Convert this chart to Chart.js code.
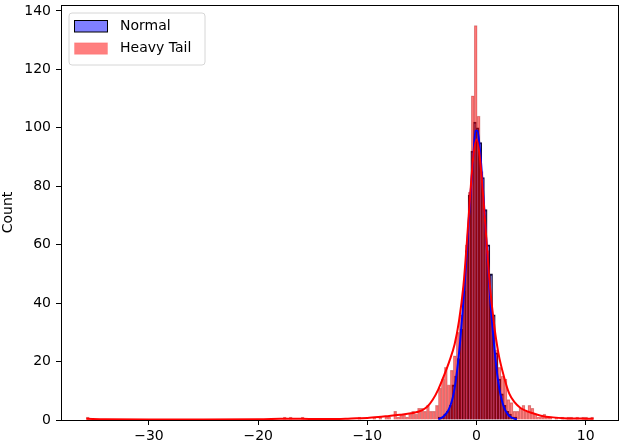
<!DOCTYPE html>
<html>
<head>
<meta charset="utf-8">
<script src="https://cdn.jsdelivr.net/npm/chart.js@4.4.0/dist/chart.umd.min.js"></script>
<style>
  html, body { margin: 0; padding: 0; background: #fff; }
  #wrap { position: relative; width: 623px; height: 448px; }
</style>
</head>
<body>
<div id="wrap"><canvas id="histCanvas"></canvas></div>
<script>
// axis limits and ticks
const xLimits = [-38.06, 13.05];
const yLimits = [0, 142.05];
const xTicks = [-30, -20, -10, 0, 10];
const yTicks = [0, 20, 40, 60, 80, 100, 120, 140];

// Normal histogram (bin start, bin width, counts)
const normalBinStart = -3.50;
const normalBinWidth = 0.2483;
const normalCounts = [1, 1, 2, 3, 5, 12, 15, 21, 31, 44, 58, 77, 92, 102, 100,
                      95, 83, 72, 60, 50, 36, 23, 14, 9, 5, 3, 2, 1, 1];

// Heavy tail histogram
const heavyBinStart = -35.74;
const heavyBinWidth = 0.2733;
const heavyCounts = [
    1, 0, 0, 0, 0, 0, 0, 0, 0, 0,
    0, 0, 0, 0, 0, 0, 0, 0, 0, 0,
    0, 0, 0, 0, 0, 0, 0, 0, 0, 0,
    0, 0, 0, 0, 0, 0, 0, 0, 0, 0,
    0, 0, 0, 0, 0, 0, 0, 0, 0, 0,
    0, 0, 0, 0, 0, 0, 0, 0, 0, 0,
    0, 0, 0, 0, 0, 0, 1, 0, 1, 0,
    0, 0, 1, 0, 0, 0, 0, 0, 0, 0,
    0, 0, 0, 0, 0, 0, 0, 0, 0, 0,
    0, 1, 0, 0, 0, 0, 1, 0, 1, 0,
    1, 1, 0, 3, 1, 2, 2, 1, 2, 3,
    2, 4, 4, 3, 5, 3, 3, 5, 11, 14,
    18, 12, 17, 22, 30, 36, 45, 60, 78, 111,
    135, 104, 85, 70, 58, 42, 33, 24, 18, 15,
    14, 7, 6, 3, 3, 4, 5, 3, 5, 4,
    2, 1, 1, 2, 1, 1, 0, 1, 0, 1,
    0, 1, 1, 0, 1, 0, 1, 1, 0, 1
];

// KDE curves
const normalKdeX = [-3.5, -3.3, -3.1, -2.9, -2.7, -2.5, -2.3, -2.1, -1.9, -1.7, -1.5, -1.3,
                    -1.1, -0.9, -0.7, -0.5, -0.3, -0.1, 0.1, 0.3, 0.5, 0.7, 0.9, 1.1,
                    1.3, 1.5, 1.7, 1.9, 2.1, 2.3, 2.5, 2.7, 2.9, 3.1, 3.3, 3.5, 3.7];
const normalKdeY = [0.3, 0.6, 1.0, 1.7, 2.6, 4.0, 6.0, 9.0, 13.5, 19.5, 27, 36,
                    46, 57, 69, 80, 90, 99, 99, 93, 84, 73, 61, 50,
                    39, 30, 22, 15.5, 10.5, 7.0, 4.5, 2.9, 1.8, 1.1, 0.7, 0.4, 0.2];

const heavyKdeX = [-35.74, -34, -30, -25, -20, -18, -17, -16, -14, -12, -11, -10, -9, -8, -7,
                   -6, -5, -4.5, -4, -3.5, -3, -2.5, -2, -1.6, -1.2, -0.9, -0.6, -0.3, 0, 0.3,
                   0.6, 0.9, 1.2, 1.6, 2, 2.5, 3, 3.5, 4, 4.5, 5, 6, 7, 8, 9, 10, 10.72];
const heavyKdeY = [0.4, 0.25, 0.2, 0.2, 0.25, 0.4, 0.45, 0.4, 0.3, 0.4, 0.6, 0.7, 1.0, 1.4, 1.8,
                   2.3, 3.3, 4.6, 7, 10.5, 15, 20, 26, 34, 46, 60, 76, 90, 96, 90,
                   77, 62, 47, 33, 23, 15, 9, 6, 4.2, 3.2, 2.5, 1.4, 0.9, 0.6, 0.5, 0.45, 0.4];

const labels = ['Normal', 'Heavy Tail'];

const FONT = 'DejaVu Sans';

function binPoints(start, width, counts) {
    return counts.map((c, i) => ({ x: start + (i + 0.5) * width, y: c }));
}

function curvePoints(xs, ys) {
    return xs.map((x, i) => ({ x: x, y: ys[i] }));
}

function fmtTick(v) {
    return v < 0 ? '\u2212' + Math.abs(v) : String(v);
}

// matplotlib style legend box + frame drawn on top of the plot
const mplDecor = {
    id: 'mplDecor',
    afterDraw(chart) {
        const ctx = chart.ctx;
        const a = chart.chartArea;
        ctx.save();

        // frame (all four spines)
        ctx.strokeStyle = '#000';
        ctx.lineWidth = 1;
        ctx.strokeRect(Math.round(a.left) + 0.5, Math.round(a.top) + 0.5,
                       Math.round(a.right - a.left) - 1, Math.round(a.bottom - a.top));

        // legend
        const bx = a.left + 8, by = a.top + 8, bw = 136, bh = 52, r = 3;
        ctx.beginPath();
        ctx.moveTo(bx + r, by);
        ctx.arcTo(bx + bw, by, bx + bw, by + bh, r);
        ctx.arcTo(bx + bw, by + bh, bx, by + bh, r);
        ctx.arcTo(bx, by + bh, bx, by, r);
        ctx.arcTo(bx, by, bx + bw, by, r);
        ctx.closePath();
        ctx.fillStyle = 'rgba(255,255,255,0.8)';
        ctx.fill();
        ctx.strokeStyle = '#d6d6d6';
        ctx.lineWidth = 1;
        ctx.stroke();

        const entries = [
            { fill: 'rgba(0,0,255,0.5)', edge: '#000' },
            { fill: 'rgba(255,0,0,0.5)', edge: 'rgba(255,0,0,0.15)' }
        ];
        ctx.font = '14px "' + FONT + '"';
        ctx.textBaseline = 'middle';
        ctx.textAlign = 'left';
        entries.forEach((e, i) => {
            const py = by + 7.5 + i * 22.3;
            ctx.fillStyle = e.fill;
            ctx.fillRect(bx + 5.5, py, 33, 11.5);
            ctx.strokeStyle = e.edge;
            ctx.lineWidth = 1;
            ctx.strokeRect(bx + 5.5, py, 33, 11.5);
            ctx.fillStyle = '#000';
            ctx.fillText(labels[i], bx + 51, py + 6);
        });
        ctx.restore();
    }
};

const tickFont = { family: FONT, size: 14 };

new Chart(document.getElementById('histCanvas'), {
    type: 'bar',
    data: {
        datasets: [
            {
                type: 'bar',
                label: labels[0],
                data: binPoints(normalBinStart, normalBinWidth, normalCounts),
                xAxisID: 'x',
                backgroundColor: 'rgba(0,0,255,0.5)',
                borderColor: 'rgba(10,0,40,0.95)',
                borderWidth: 1.4,
                barPercentage: 1,
                categoryPercentage: 1,
                grouped: false,
                order: 4
            },
            {
                type: 'bar',
                label: labels[1],
                data: binPoints(heavyBinStart, heavyBinWidth, heavyCounts),
                xAxisID: 'xHeavy',
                backgroundColor: 'rgba(255,0,0,0.5)',
                borderColor: 'rgba(140,0,0,0.35)',
                borderWidth: 0.6,
                barPercentage: 1,
                categoryPercentage: 1,
                grouped: false,
                order: 3
            },
            {
                type: 'line',
                label: 'Normal KDE',
                data: curvePoints(normalKdeX, normalKdeY),
                xAxisID: 'x',
                borderColor: '#0000ff',
                borderWidth: 2,
                pointRadius: 0,
                fill: false,
                cubicInterpolationMode: 'monotone',
                order: 2
            },
            {
                type: 'line',
                label: 'Heavy Tail KDE',
                data: curvePoints(heavyKdeX, heavyKdeY),
                xAxisID: 'x',
                borderColor: '#ff0000',
                borderWidth: 2,
                pointRadius: 0,
                fill: false,
                cubicInterpolationMode: 'monotone',
                order: 1
            }
        ]
    },
    options: {
        responsive: true,
        maintainAspectRatio: false,
        animation: false,
        layout: { padding: { left: 0, right: 4, top: 5, bottom: 0 } },
        plugins: {
            legend: { display: false },
            tooltip: { enabled: false }
        },
        scales: {
            x: {
                type: 'linear',
                position: 'bottom',
                min: xLimits[0],
                max: xLimits[1],
                offset: false,
                afterBuildTicks: s => { s.ticks = xTicks.map(v => ({ value: v })); },
                afterFit: s => { s.height = 28; s.paddingLeft = 0; s.paddingRight = 0; },
                grid: { display: true, offset: false, drawOnChartArea: false, drawTicks: true,
                        tickLength: 5, tickColor: '#000', tickWidth: 1 },
                border: { display: false },
                ticks: { color: '#000', font: tickFont, padding: 3, maxRotation: 0,
                         autoSkip: false, callback: v => fmtTick(v) }
            },
            xHeavy: {
                type: 'linear',
                position: 'bottom',
                display: false,
                min: xLimits[0],
                max: xLimits[1],
                offset: false,
                grid: { offset: false }
            },
            y: {
                type: 'linear',
                min: yLimits[0],
                max: yLimits[1],
                afterBuildTicks: s => { s.ticks = yTicks.map(v => ({ value: v })); },
                afterFit: s => { s.width = 61; s.paddingTop = 0; s.paddingBottom = 0; },
                grid: { display: true, drawOnChartArea: false, drawTicks: true,
                        tickLength: 5, tickColor: '#000', tickWidth: 1 },
                border: { display: false },
                ticks: { color: '#000', font: tickFont, padding: 5 },
                title: { display: true, text: 'Count', color: '#000',
                         font: { family: FONT, size: 14 }, padding: { top: 0, bottom: 0 } }
            }
        }
    },
    plugins: [mplDecor]
});
</script>
</body>
</html>
